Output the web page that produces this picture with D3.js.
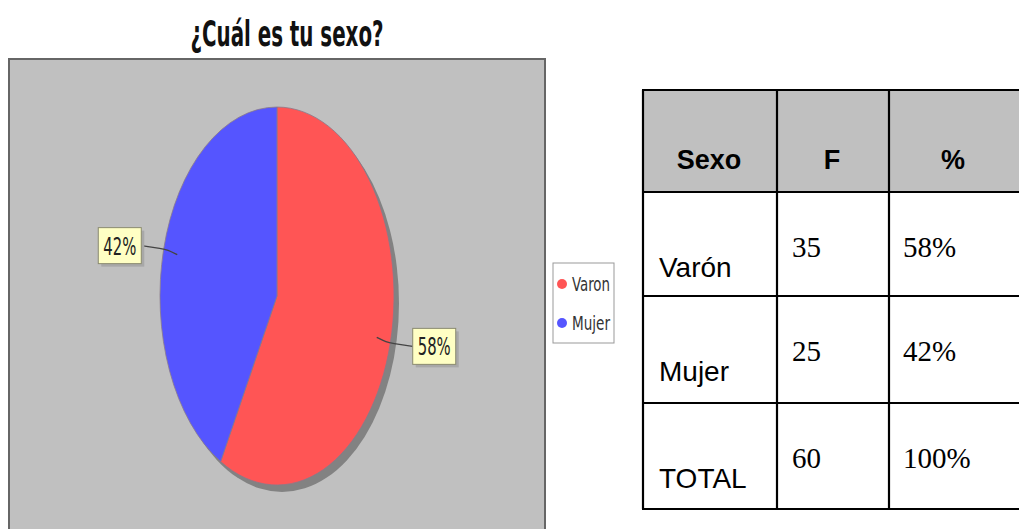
<!DOCTYPE html>
<html><head><meta charset="utf-8">
<script src="https://cdn.jsdelivr.net/npm/d3@7"></script>
<style>html,body{margin:0;padding:0;background:#fff;overflow:hidden}</style>
</head><body>
<svg id="c" width="1019" height="529"></svg>
<script>
const title = "¿Cuál es tu sexo?";
const categories = ["Varon", "Mujer"];
const values = [58, 42];
const colors = ["#ff5555", "#5555ff"];
const tableHeader = ["Sexo", "F", "%"];
const tableRows = [["Varón", "35", "58%"], ["Mujer", "25", "42%"], ["TOTAL", "60", "100%"]];

const svg = d3.select("#c");
const narrow = "'Liberation Sans Narrow','Arial Narrow','DejaVu Sans Condensed',sans-serif";

// panel
svg.append("rect").attr("x", 9).attr("y", 59).attr("width", 536).attr("height", 480)
  .attr("fill", "#c0c0c0").attr("stroke", "#666").attr("stroke-width", 2);

// title
svg.append("text").attr("x", 287).attr("y", 46).attr("text-anchor", "middle")
  .attr("font-family", narrow).attr("font-weight", "bold").attr("font-size", 35)
  .attr("textLength", 193).attr("lengthAdjust", "spacingAndGlyphs")
  .attr("fill", "#111").text(title);

// pie (elliptical)
const cx = 277, cy = 296, rx = 117, ry = 189;
const pie = d3.pie().sort(null).value(d => d)(values);
const arc = d3.arc().innerRadius(0).outerRadius(ry);

svg.append("ellipse").attr("cx", cx + 5).attr("cy", cy + 7).attr("rx", rx).attr("ry", ry)
  .attr("fill", "#828282");
const g = svg.append("g").attr("transform", `translate(${cx},${cy}) scale(${rx / ry},1)`);
g.selectAll("path").data(pie).join("path")
  .attr("d", arc).attr("fill", (d, i) => colors[i])
  .attr("stroke", "#8a7a8a").attr("stroke-width", 0.8)
  .attr("vector-effect", "non-scaling-stroke");

// labels
pie.forEach((d, i) => {
  const a = (d.startAngle + d.endAngle) / 2;
  const s = Math.sin(a), c = Math.cos(a);
  const px = cx + 0.88 * rx * s, py = cy - 0.88 * ry * c;
  const dir = s >= 0 ? 1 : -1;
  const ex = px + dir * 36, ey = py + dir * 9;
  svg.append("path")
    .attr("d", d3.line().curve(d3.curveBasis)([[px, py], [px + dir * 10, py + dir * 5], [px + dir * 15, py + dir * 6], [ex, ey]]))
    .attr("fill", "none").attr("stroke", "#444").attr("stroke-width", 1.3);
  const label = values[i] + "%";
  const bw = 43, bh = 36;
  const bx = dir > 0 ? ex : ex - bw, by = ey - bh / 2;
  svg.append("rect").attr("x", bx + 3).attr("y", by + 3).attr("width", bw).attr("height", bh)
    .attr("fill", "#a8a8a8");
  svg.append("rect").attr("x", bx).attr("y", by).attr("width", bw).attr("height", bh)
    .attr("fill", "#ffffc4").attr("stroke", "#8a8a70").attr("stroke-width", 1);
  svg.append("text").attr("x", bx + bw / 2).attr("y", by + bh / 2 + 9).attr("text-anchor", "middle")
    .attr("font-family", narrow).attr("font-size", 24).attr("fill", "#222")
    .attr("textLength", 33).attr("lengthAdjust", "spacingAndGlyphs").text(label);
});

// legend
const lg = svg.append("g");
lg.append("rect").attr("x", 553).attr("y", 263).attr("width", 61).attr("height", 80)
  .attr("fill", "#fff").attr("stroke", "#999").attr("stroke-width", 1);
categories.forEach((cat, i) => {
  const y = 284 + i * 39;
  lg.append("circle").attr("cx", 562).attr("cy", y).attr("r", 5).attr("fill", colors[i]);
  lg.append("text").attr("x", 572).attr("y", y + 7).attr("font-family", narrow)
    .attr("font-size", 19).attr("fill", "#333")
    .attr("textLength", 38).attr("lengthAdjust", "spacingAndGlyphs").text(cat);
});

// table
const colX = [643, 777, 889, 1022];
const rowY = [90, 192, 296, 403, 509];
const t = svg.append("g");
t.append("rect").attr("x", colX[0]).attr("y", rowY[0]).attr("width", colX[3] - colX[0]).attr("height", rowY[1] - rowY[0])
  .attr("fill", "#c0c0c0");
rowY.forEach(y => t.append("line").attr("x1", colX[0] - 1).attr("x2", colX[3]).attr("y1", y).attr("y2", y)
  .attr("stroke", "#000").attr("stroke-width", 2.2));
colX.forEach(x => t.append("line").attr("x1", x).attr("x2", x).attr("y1", rowY[0]).attr("y2", rowY[4])
  .attr("stroke", "#000").attr("stroke-width", 2.2));
const headX = [709, 832, 953];
tableHeader.forEach((h, j) => {
  t.append("text").attr("x", headX[j]).attr("y", 169).attr("text-anchor", "middle")
    .attr("font-family", "'Liberation Sans',Arial,sans-serif").attr("font-weight", "bold")
    .attr("font-size", 27).attr("fill", "#000").text(h);
});
const textX = [659, 792, 903];
tableRows.forEach((row, i) => {
  const top = rowY[i + 1];
  row.forEach((v, j) => {
    const isFirst = j === 0;
    t.append("text").attr("x", textX[j]).attr("y", isFirst ? top + 85 : top + 65)
      .attr("font-family", isFirst ? "'Liberation Sans',Arial,sans-serif" : "'Liberation Serif','Times New Roman',serif")
      .attr("font-size", isFirst ? 28 : 29).attr("fill", "#000").text(v);
  });
});
</script>
</body></html>
